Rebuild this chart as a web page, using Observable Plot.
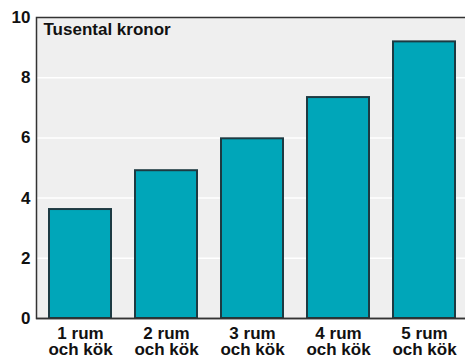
<!DOCTYPE html>
<html>
<head>
<meta charset="utf-8">
<script src="https://cdn.jsdelivr.net/npm/d3@7"></script>
<script src="https://cdn.jsdelivr.net/npm/@observablehq/plot@0.6"></script>
<style>
  html, body { margin: 0; padding: 0; background: #ffffff; overflow: hidden; }
  #chart { width: 465px; height: 358px; overflow: hidden; }
</style>
</head>
<body>
<div id="chart"></div>
<script>
const categories = ["1 rum\noch kök", "2 rum\noch kök", "3 rum\noch kök", "4 rum\noch kök", "5 rum\noch kök"];
const values = [3.62, 4.91, 5.97, 7.34, 9.19];
const yTicks = [0, 2, 4, 6, 8, 10];
const gridTicks = [2, 4, 6, 8];
const unitLabel = "Tusental kronor";

const data = categories.map((c, i) => ({cat: c, value: values[i]}));

const chart = Plot.plot({
  width: 465,
  height: 358,
  marginTop: 17,
  marginBottom: 40,
  marginLeft: 36,
  marginRight: -2,
  style: {fontFamily: "Liberation Sans, Arial, sans-serif", fontSize: "17px", fontWeight: "bold", color: "#111", background: "white"},
  x: {domain: categories, paddingInner: 0.28, paddingOuter: 0.14, label: null},
  y: {domain: [0, 10], label: null},
  marks: [
    Plot.frame({fill: "#efefef", stroke: "none"}),
    Plot.gridY(gridTicks, {stroke: "white", strokeOpacity: 1, strokeWidth: 1.5}),
    Plot.barY(data, {x: "cat", y: "value", fill: "#00a6b9", stroke: "#1d3a42", strokeWidth: 2, inset: 0}),
    Plot.frame({stroke: "#333", strokeWidth: 1.5}),
    Plot.ruleY([0], {stroke: "#333", strokeWidth: 1.5}),
    Plot.text([unitLabel], {frameAnchor: "top-left", dx: 7, dy: 5, fontSize: 17, fontWeight: "bold", fill: "#111", textAnchor: "start", lineAnchor: "top"}),
    Plot.axisY(yTicks, {tickSize: 0, tickPadding: 6, fontSize: 17, fontWeight: "bold", label: null}),
    Plot.axisX({tickSize: 0, tickPadding: 9, fontSize: 17, fontWeight: "bold", label: null, lineHeight: 0.95})
  ]
});
document.getElementById("chart").appendChild(chart);
</script>
</body>
</html>
